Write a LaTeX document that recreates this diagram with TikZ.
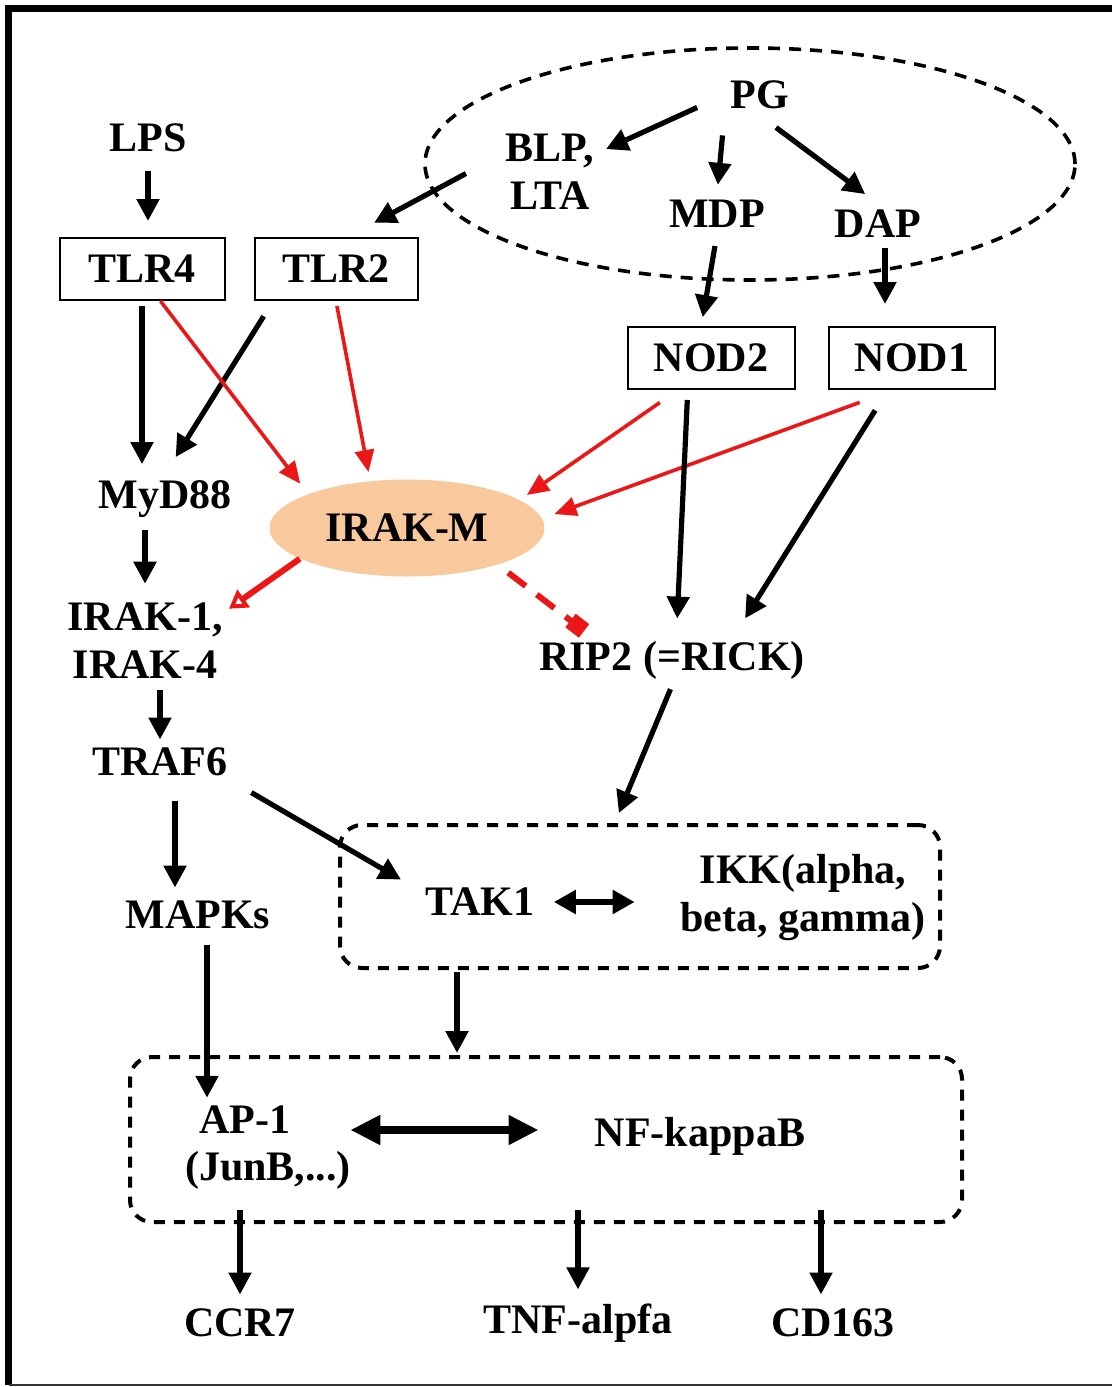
\documentclass[tikz,border=0pt]{standalone}
\usepackage{fontspec}
\setmainfont{Liberation Serif}
\usetikzlibrary{arrows.meta,shapes.geometric}
\definecolor{sigred}{RGB}{236,22,22}
\definecolor{irakfill}{RGB}{249,201,158}
\begin{document}
\begin{tikzpicture}[x=0.5pt,y=-0.5pt,
	every node/.style={font=\fontsize{21}{24}\selectfont\bfseries, inner sep=3pt, align=center},
	recbox/.style={draw, line width=1pt, minimum height=31pt},
	grpbox/.style={draw, line width=2pt, dash pattern=on 5.5pt off 4.5pt, rounded corners=11pt},
	act/.style={line width=2.6pt, -{Triangle[length=11pt,width=11pt]}, shorten <=6pt, shorten >=8pt},
	ind/.style={sigred, line width=1.8pt, -{Triangle[length=11pt,width=9.5pt]}},
	inhopen/.style={sigred, line width=3pt, -{Triangle[open,length=9pt,width=10.5pt,line width=2pt]}},
	inhsq/.style={sigred, line width=3pt, dash pattern=on 11pt off 7pt, -{Square[length=8.5pt,width=8.5pt]}},
	both/.style={line width=3pt, {Triangle[length=11pt,width=11.5pt]}-{Triangle[length=11pt,width=11.5pt]}},
	bigboth/.style={line width=4pt, {Triangle[length=15pt,width=14pt]}-{Triangle[length=15pt,width=14pt]}}
	]

	\useasboundingbox (0,0) rectangle (1112,1387);

	% Frame

	\draw[line width=3.5pt] (8.5,1385) -- (8.5,8.5) -- (1112,8.5);
	\draw[line width=1pt, black!80] (8.5,1385) -- (1112,1385);

	% Groups

	\node[ellipse, draw, line width=1.8pt, dash pattern=on 6pt off 4.5pt, minimum width=325pt, minimum height=116pt, inner sep=0] (pgzone) at (750,164) {};
	\node[grpbox, minimum width=300pt, minimum height=71.5pt] (kinase) at (640,896.5) {};
	\node[grpbox, minimum width=416pt, minimum height=82.5pt] (tf) at (546,1139.5) {};

	% Molecules

	\node (lps) at (148,138) {LPS};
	\node (pg) at (760,95) {PG};
	\node (blp) at (550,172) {BLP,\\LTA};
	\node (mdp) at (717,214) {MDP};
	\node (dap) at (878,224) {DAP};
	\node[recbox, minimum width=82.5pt] (tlr4) at (142,269) {TLR4};
	\node[recbox, minimum width=81.5pt] (tlr2) at (336,269) {TLR2};
	\node[recbox, minimum width=83.5pt] (nod2) at (711,358) {NOD2};
	\node[recbox, minimum width=83pt] (nod1) at (912,358) {NOD1};
	\node (myd) at (165,499) {MyD88};
	\node[ellipse, fill=irakfill, minimum width=137.5pt, minimum height=48.5pt, inner sep=0] (irakm) at (407,528) {IRAK-M};
	\node (irak) at (145,641) {IRAK-1,\\IRAK-4};
	\node (rip) at (672,660) {RIP2 (=RICK)};
	\node (traf) at (160,762) {TRAF6};
	\node (mapk) at (198,915) {MAPKs};
	\node (tak) at (480,902) {TAK1};
	\node (ikk) at (803,898) {IKK(alpha,\\beta, gamma)};
	\node (ap) at (245,1120) {AP-1};
	\node (junb) at (268,1170) {(JunB,...)};
	\node (nfk) at (700,1136) {NF-kappaB};
	\node (ccr) at (240,1323) {CCR7};
	\node (tnf) at (578,1323) {TNF-alpfa};
	\node (cd) at (833,1323) {CD163};

	% Ligands

	\draw[act] (lps.south) -- (lps.south |- tlr4.north);
	\draw[act, shorten <=15pt, shorten >=3pt] (pg.west) -- (blp.22);
	\draw[act, shorten <=10pt, shorten >=4.5pt] (pg.south west) -- (mdp.north);
	\draw[act, shorten <=10pt, shorten >=8pt] (pg.south) -- (dap.north);
	\draw[act, shorten <=19pt, shorten >=15pt] (blp.162) -- (tlr2.70);
	\draw[act, shorten <=6pt, shorten >=4.5pt] (mdp.south) -- (nod2.107);
	\draw[act, shorten <=2pt, shorten >=11pt] ([xshift=3.5pt]dap.south) -- ([xshift=3.5pt]dap.south |- nod1.north);

	% Receptors

	\draw[act, shorten <=2.5pt, shorten >=5pt] (tlr4.south) -- (tlr4.south |- myd.north);
	\draw[act, shorten <=9pt, shorten >=10pt] (tlr2.207) -- (myd.north);
	\draw[ind, shorten >=6.4pt] (tlr4.-60) -- (irakm.161);
	\draw[ind, shorten <=2.5pt, shorten >=4.5pt] (tlr2.south) -- (irakm.128);
	\draw[ind, shorten <=11pt, shorten >=4.3pt] (nod2.224) -- (irakm.14);
	\draw[ind, shorten <=18pt, shorten >=6.5pt] (nod1.240) -- (irakm.4);
	\draw[act, shorten <=5pt, shorten >=8pt] (nod2.234) -- (rip.80);
	\draw[act, shorten <=12pt, shorten >=9.5pt] (nod1.233) -- (rip.22);

	% IRAK-M

	\draw[act, shorten <=3pt, shorten >=6.5pt] (irak.north |- myd.south) -- (irak.north);
	\draw[inhopen] (irakm.196) -- (irak.21);
	\draw[inhsq, shorten <=6.5pt, shorten >=3pt] (irakm.-22) -- (rip.163);

	% Kinases

	\draw[act, shorten <=2.5pt, shorten >=1pt] (irak.south -| traf.north) -- (traf.north);
	\draw[act, shorten <=2pt, shorten >=5.4pt] (rip.south) -- (kinase.109);
	\draw[act, shorten <=10pt, shorten >=10.5pt] (traf.south east) -- (tak.169);
	\draw[act, shorten <=9pt, shorten >=3.5pt] ([xshift=7.5pt]traf.south) -- ([xshift=7.5pt]traf.south |- mapk.north);
	\draw[both, shorten <=6.5pt, shorten >=19.75pt] (tak.east) -- (tak.east -| ikk.west);

	% Transcription

	\draw[act, shorten <=5pt, shorten >=1pt] ([xshift=4.5pt]mapk.south) -- ([xshift=4.5pt]mapk.south |- ap.north);
	\draw[act, shorten <=1pt, shorten >=1pt] ([xshift=-91.5pt]kinase.south) -- ([xshift=-91.5pt]kinase.south |- tf.north);
	\draw[bigboth, shorten <=-3.5pt, shorten >=25pt] ([yshift=3pt]nfk.west -| junb.east) -- ([yshift=3pt]nfk.west);

	\foreach \g in {ccr,tnf}
	\draw[act, shorten <=-7pt, shorten >=4pt] (\g.north |- tf.south) -- (\g.north);
	\draw[act, shorten <=-7pt, shorten >=4pt] ([xshift=-6pt]cd.north |- tf.south) -- ([xshift=-6pt]cd.north);

\end{tikzpicture}
\end{document}
